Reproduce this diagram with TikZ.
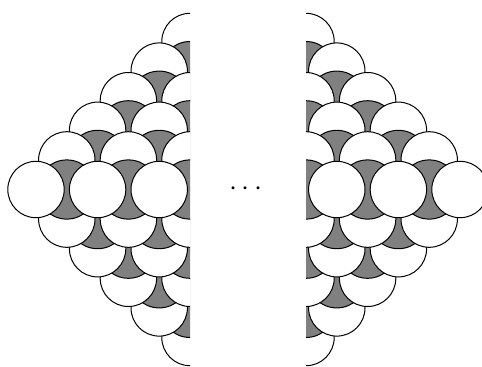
\documentclass[tikz,border=0pt]{standalone}
\begin{document}
\begin{tikzpicture}[x=0.5pt,y=-0.5pt,
  ball/.style={draw=black,fill=white,line width=0.5pt},
  hole/.style={draw=black,fill=black!50,line width=0.5pt}]
\useasboundingbox (0,0) rectangle (482,366);
\def\h{30.8}
\def\s{29.6}
\def\r{28.2}
\def\q{29.6}
\def\my{189.5}
\def\xl{190}
\def\xr{306}
% left half
\begin{scope}
  \clip (0,0) rectangle (\xl,366);
  \foreach \k in {-5,-4,-3,-2,-1,5,4,3,2,1,0}{
    \pgfmathsetmacro\n{abs(\k)}
    \pgfmathsetmacro\yy{\my+\k*\s}
    \foreach \j in {0,...,3}{
      \path[hole] ({\xl-(5-\n)*\h+2*\h*\j+\h},\yy) circle[radius=\q];
    }
    \foreach \j in {0,...,3}{
      \path[ball] ({\xl-(5-\n)*\h+2*\h*\j},\yy) circle[radius=\r];
    }
  }
\end{scope}
% right half
\begin{scope}
  \clip (\xr,0) rectangle (482,366);
  \foreach \k in {-5,-4,-3,-2,-1,5,4,3,2,1,0}{
    \pgfmathsetmacro\n{abs(\k)}
    \pgfmathsetmacro\yy{\my+\k*\s}
    \foreach \j in {0,...,3}{
      \path[hole] ({\xr+(5-\n)*\h-2*\h*\j-\h},\yy) circle[radius=\q];
    }
    \foreach \j in {0,...,3}{
      \path[ball] ({\xr+(5-\n)*\h-2*\h*\j},\yy) circle[radius=\r];
    }
  }
\end{scope}
\node (dots) at (246,189.5) {\fontsize{14}{16}\selectfont$\cdots$};
\end{tikzpicture}
\end{document}
